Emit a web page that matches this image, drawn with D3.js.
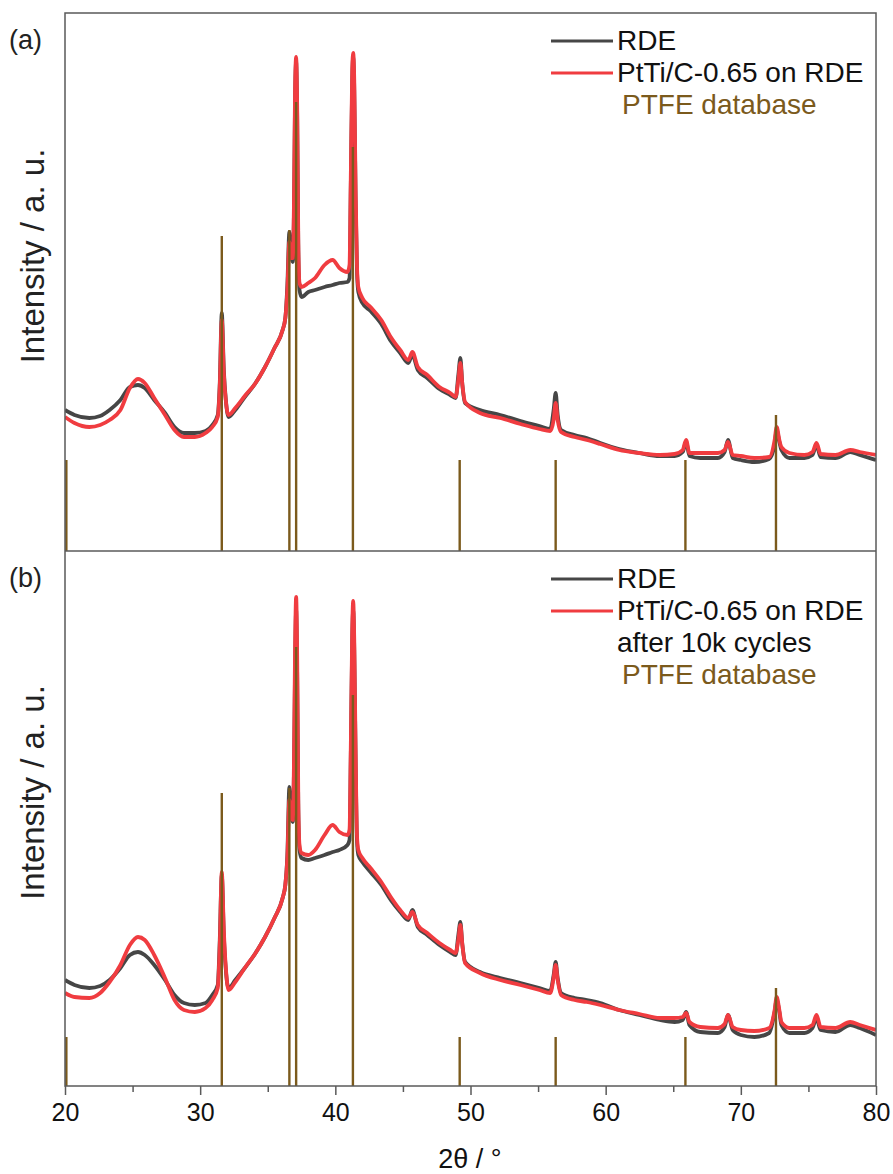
<!DOCTYPE html>
<html>
<head>
<meta charset="utf-8">
<script src="https://cdn.jsdelivr.net/npm/d3@7"></script>
<style>
  html, body { margin: 0; padding: 0; background: #fff; }
  svg { display: block; font-family: "Liberation Sans", Arial, Helvetica, sans-serif; }
</style>
</head>
<body>
<svg id="chart" width="893" height="1174"></svg>
<script>
// 2θ sampling positions (degrees) shared by all four patterns
const twoTheta = [20.0, 20.7, 21.8, 22.6, 23.3, 24.1, 24.8, 25.4, 25.9, 26.6, 27.4, 28.1, 28.8, 29.6, 30.4, 30.9,
  31.3, 31.45, 31.6, 31.75, 31.9, 32.1, 32.6, 33.3, 34.1, 34.8, 35.5, 36.1, 36.3, 36.45, 36.6, 36.72, 36.85, 36.95,
  37.02, 37.1, 37.18, 37.26, 37.35, 37.5, 38.0, 38.5, 39.2, 39.8, 40.3, 40.9, 41.05, 41.15, 41.25, 41.32, 41.4,
  41.5, 41.6, 41.7, 42.0, 42.6, 43.4, 44.1, 44.8, 45.4, 45.7, 46.1, 46.8, 47.7, 48.5, 48.9, 49.1, 49.25, 49.4,
  49.6, 50.7, 52.2, 53.7, 55.1, 55.9, 56.15, 56.3, 56.45, 56.7, 57.7, 58.6, 59.6, 61.0, 62.5, 64.0, 65.1, 65.7,
  65.95, 66.2, 67.0, 68.3, 68.8, 69.05, 69.4, 70.0, 71.0, 72.1, 72.5, 72.65, 72.85, 73.0, 73.6, 74.7, 75.3, 75.6,
  75.9, 77.0, 78.1, 78.8, 80.0];

// (a) bare RDE
const rdeA = [141, 136, 133, 135, 141, 151, 164, 166, 163, 151, 138, 124, 118, 118, 120, 126,
  136, 168, 238, 181, 151, 134, 141, 154, 168, 184, 203, 221, 233, 266, 319, 296, 289, 351,
  451, 489, 431, 301, 261, 254, 259, 261, 264, 266, 268, 269, 273, 371, 471, 494, 461,
  351, 281, 259, 248, 240, 227, 210, 198, 188, 196, 181, 173, 162, 156, 153, 176, 193, 166,
  148, 141, 136, 130, 125, 122, 141, 158, 136, 121, 116, 113, 108, 102, 98, 95, 95, 99,
  109, 95, 93, 93, 99, 111, 93, 91, 89, 92, 106, 121, 109, 101, 93, 93, 96, 106,
  94, 93, 99, 96, 91];

// (a) PtTi/C-0.65 on RDE
const ptTiA = [134, 128, 124, 126, 131, 141, 163, 172, 168, 153, 136, 121, 114, 114, 118, 124,
  134, 165, 231, 178, 150, 136, 143, 155, 168, 184, 203, 221, 233, 261, 309, 293, 293, 361,
  461, 494, 441, 311, 268, 264, 268, 273, 286, 291, 283, 279, 286, 381, 481, 498, 471,
  361, 286, 264, 253, 244, 231, 214, 201, 191, 199, 184, 176, 164, 158, 154, 171, 188, 166,
  149, 138, 133, 127, 122, 120, 131, 148, 131, 119, 114, 111, 107, 101, 98, 96, 97, 101,
  111, 98, 98, 98, 101, 109, 96, 95, 93, 94, 111, 124, 111, 104, 98, 96, 99, 108,
  97, 96, 101, 99, 96];

// (b) bare RDE
const rdeB = [106, 101, 98, 100, 106, 118, 131, 134, 131, 121, 106, 91, 83, 81, 83, 91,
  101, 146, 211, 151, 116, 98, 106, 118, 133, 149, 168, 188, 201, 231, 299, 271, 264, 326,
  416, 476, 406, 276, 236, 228, 226, 228, 231, 234, 236, 241, 246, 336, 446, 476, 436,
  326, 246, 231, 224, 214, 201, 186, 174, 166, 176, 159, 151, 141, 134, 131, 151, 164, 141,
  124, 114, 108, 103, 98, 95, 111, 124, 108, 93, 88, 86, 83, 76, 71, 66, 64, 66,
  74, 61, 54, 53, 59, 71, 56, 51, 49, 53, 74, 86, 74, 61, 53, 53, 58, 68,
  56, 54, 61, 58, 51];

// (b) PtTi/C-0.65 on RDE after 10k cycles
const ptTiB = [93, 89, 88, 93, 104, 121, 141, 149, 146, 131, 108, 86, 76, 74, 78, 86,
  98, 141, 214, 156, 118, 96, 104, 118, 133, 149, 168, 188, 201, 228, 286, 268, 266, 336,
  436, 489, 426, 286, 241, 233, 231, 236, 251, 261, 254, 251, 256, 346, 456, 485, 446,
  336, 251, 236, 228, 218, 204, 189, 176, 168, 174, 161, 153, 143, 136, 133, 146, 161, 141,
  123, 113, 106, 101, 96, 93, 108, 121, 106, 91, 86, 84, 81, 76, 72, 68, 68, 69,
  73, 64, 59, 58, 62, 71, 59, 56, 55, 58, 76, 89, 76, 64, 58, 58, 61, 71,
  59, 58, 64, 61, 56];

// PTFE reference reflections: positions and stick heights in each panel
const ptfeAngles = [20.1, 31.6, 36.6, 37.1, 41.3, 49.2, 56.3, 65.9, 72.6];
const ptfeA = [91, 315, 321, 449, 404, 91, 91, 91, 136];
const ptfeB = [49, 293, 298, 439, 391, 49, 49, 49, 98];

const xTicks = [20, 30, 40, 50, 60, 70, 80];
const xMinorTicks = [25, 35, 45, 55, 65, 75];

const legendA = ["RDE", "PtTi/C-0.65 on RDE", "PTFE database"];
const legendB = ["RDE", "PtTi/C-0.65 on RDE", "after 10k cycles", "PTFE database"];

const colors = { rde: "#464646", ptti: "#f03c40", ptfe: "#7b5a1c", frame: "#5a5a5a" };

const svg = d3.select("#chart");
const left = 65, right = 876;
const x = d3.scaleLinear().domain([20, 80]).range([left, right]);

const panels = [
  { id: "a", top: 13, bottom: 551, max: 538, rde: rdeA, ptti: ptTiA, sticks: ptfeA, legend: legendA, tag: "(a)" },
  { id: "b", top: 551, bottom: 1086, max: 535, rde: rdeB, ptti: ptTiB, sticks: ptfeB, legend: legendB, tag: "(b)" }
];

panels.forEach(p => {
  const y = d3.scaleLinear().domain([0, p.max]).range([p.bottom, p.top]);
  const g = svg.append("g");

  g.append("clipPath").attr("id", "clip-" + p.id)
    .append("rect").attr("x", left).attr("y", p.top).attr("width", right - left).attr("height", p.bottom - p.top);

  const plot = g.append("g").attr("clip-path", `url(#clip-${p.id})`);
  const line = vals => d3.line()
    .x((d, i) => x(twoTheta[i]))
    .y(d => y(d))
    .curve(d3.curveMonotoneX)(vals);

  plot.append("path").attr("d", line(p.rde))
    .attr("fill", "none").attr("stroke", colors.rde).attr("stroke-width", 3.8)
    .attr("stroke-linejoin", "round");
  plot.append("path").attr("d", line(p.ptti))
    .attr("fill", "none").attr("stroke", colors.ptti).attr("stroke-width", 3.8)
    .attr("stroke-linejoin", "round");

  plot.selectAll("line.stick").data(ptfeAngles).join("line")
    .attr("class", "stick")
    .attr("x1", d => x(d)).attr("x2", d => x(d))
    .attr("y1", y(0)).attr("y2", (d, i) => y(p.sticks[i]))
    .attr("stroke", colors.ptfe).attr("stroke-width", 2.4);

  // panel tag
  svg.append("text").attr("x", 9).attr("y", p.top + 36)
    .attr("font-size", 27).attr("fill", "#222").text(p.tag);

  // y axis title
  svg.append("text")
    .attr("transform", `translate(44,${(p.top + p.bottom) / 2 - 26}) rotate(-90)`)
    .attr("text-anchor", "middle").attr("font-size", 33).attr("fill", "#222")
    .text("Intensity / a. u.");

  // legend
  const lg = svg.append("g");
  const rowH = 32, ly0 = p.top + 28;
  p.legend.forEach((t, i) => {
    const yy = ly0 + i * rowH;
    const isPtfe = t === "PTFE database";
    if (i === 0 || i === 1) {
      lg.append("line").attr("x1", 551).attr("x2", 613).attr("y1", yy).attr("y2", yy)
        .attr("stroke", i === 0 ? colors.rde : colors.ptti).attr("stroke-width", 3);
    }
    lg.append("text").attr("x", isPtfe ? 622 : 617).attr("y", yy + 9)
      .attr("font-size", 28).attr("fill", isPtfe ? colors.ptfe : "#111")
      .text(t);
  });
});

// frame
svg.append("rect").attr("x", left).attr("y", 13).attr("width", right - left).attr("height", 1086 - 13)
  .attr("fill", "none").attr("stroke", colors.frame).attr("stroke-width", 1.5);
svg.append("line").attr("x1", left).attr("x2", right).attr("y1", 551).attr("y2", 551)
  .attr("stroke", colors.frame).attr("stroke-width", 1.5);

// bottom axis
const axis = svg.append("g").attr("transform", "translate(0,1086)")
  .call(d3.axisBottom(x).tickValues(xTicks).tickSize(9).tickSizeOuter(0).tickPadding(8));
axis.select(".domain").remove();
axis.selectAll(".tick line").attr("stroke", colors.frame).attr("stroke-width", 1.5);
axis.selectAll(".tick text").attr("font-size", 25).attr("fill", "#111")
  .attr("font-family", '"Liberation Sans", Arial, sans-serif');

const minor = svg.append("g").attr("transform", "translate(0,1086)")
  .call(d3.axisBottom(x).tickValues(xMinorTicks).tickSize(6).tickFormat(""));
minor.select(".domain").remove();
minor.selectAll(".tick line").attr("stroke", colors.frame).attr("stroke-width", 1.5);

svg.append("text").attr("x", 470).attr("y", 1168).attr("text-anchor", "middle")
  .attr("font-size", 27).attr("fill", "#111").text("2θ / °");
</script>
</body>
</html>
